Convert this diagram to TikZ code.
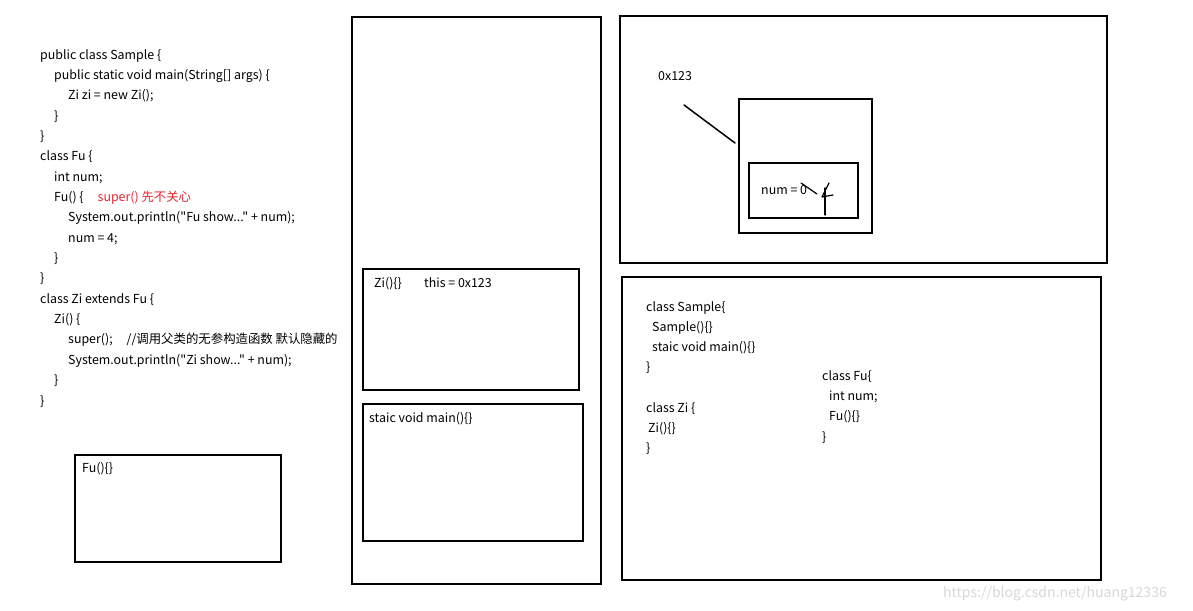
\documentclass[tikz,border=0pt]{standalone}
\usepackage{fontspec}
\setmainfont{Noto Sans CJK SC}[Ligatures=TeXOff]
\definecolor{redtxt}{RGB}{235,35,45}
\definecolor{wm}{RGB}{215,215,215}
\begin{document}
\begin{tikzpicture}[x=1pt,y=-1pt,
  frame/.style={draw=black,line width=1.7pt},
  txt/.style={anchor=west,inner sep=0pt,yshift=-2pt,font=\fontsize{12.4}{14}\selectfont,text height=9pt,text depth=3pt},
  code/.style={anchor=north west,inner sep=0pt,align=left,font=\fontsize{12.4}{20.35}\selectfont},
  hand/.style={line width=1.5pt,line cap=round,line join=round}]
\useasboundingbox (0,0) rectangle (1193,610);
% left code
\node[code] (src) at (40,49) {%
public class Sample \{\\
\hspace*{14pt}public static void main(String[] args) \{\\
\hspace*{28pt}Zi zi = new Zi();\\
\hspace*{14pt}\}\\
\}\\
class Fu \{\\
\hspace*{14pt}int num;\\
\hspace*{14pt}Fu() \{\hspace{14pt}\textcolor{redtxt}{super() 先不关心}\\
\hspace*{28pt}System.out.println("Fu show..." + num);\\
\hspace*{28pt}num = 4;\\
\hspace*{14pt}\}\\
\}\\
class Zi extends Fu \{\\
\hspace*{14pt}Zi() \{\\
\hspace*{28pt}super();\hspace{14pt}//调用父类的无参构造函数 默认隐藏的\\
\hspace*{28pt}System.out.println("Zi show..." + num);\\
\hspace*{14pt}\}\\
\}};
% Fu(){} box
\draw[frame] (75,455) rectangle (281,562);
\node[txt] (fuc) at (82,467) {Fu()\{\}};
% stack
\draw[frame] (352,17) rectangle (601,584);
\draw[frame] (363,269) rectangle (579,390);
\node[txt] (zic) at (374,282) {Zi()\{\}};
\node[txt] (this) at (424,282) {this = 0x123};
\draw[frame] (363,404) rectangle (583,541);
\node[txt] (mainf) at (369,417) {staic void main()\{\}};
% heap
\draw[frame] (620,16) rectangle (1107,263);
\node[txt] (addr) at (658,76) {0x123};
\draw[frame] (739,99) rectangle (872,233);
\coordinate (lnA) at (684,105);
\coordinate (lnB) at (735,143);
\draw[hand] (lnA) -- (lnB);
\draw[frame] (749,163) rectangle (858,218);
\node[txt] (num) at (761,189) {num = 0};
\draw[hand,line width=1.2pt] (801,183) -- (817,194);
\draw[hand,line width=1.2pt] (825,188) -- (825,215);
\draw[hand,line width=1.2pt] (829,183) -- (822,197) -- (833,195);
% method area
\draw[frame] (622,277) rectangle (1101,580);
\node[txt] (ma1) at (646,306) {class Sample\{};
\node[txt] (ma2) at (652,326) {Sample()\{\}};
\node[txt] (ma3) at (652,346) {staic void main()\{\}};
\node[txt] (ma4) at (646,366) {\}};
\node[txt] (ma5) at (646,407) {class Zi \{};
\node[txt] (ma6) at (648,427) {Zi()\{\}};
\node[txt] (ma7) at (646,447) {\}};
\node[txt] (mb1) at (822,375) {class Fu\{};
\node[txt] (mb2) at (829,395) {int num;};
\node[txt] (mb3) at (829,415) {Fu()\{\}};
\node[txt] (mb4) at (822,436) {\}};
% watermark
\node[txt,text=wm,font=\fontsize{14}{16}\selectfont] (wmk) at (943,592) {https://blog.csdn.net/huang12336};
\end{tikzpicture}
\end{document}
